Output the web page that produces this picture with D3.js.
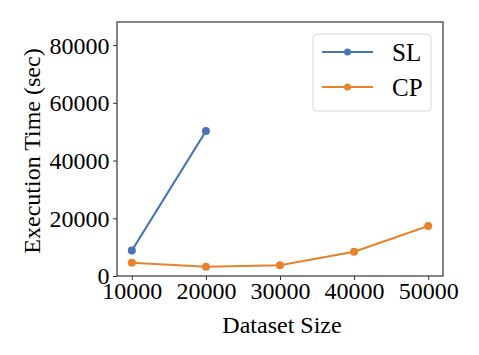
<!DOCTYPE html>
<html>
<head>
<meta charset="utf-8">
<script src="https://cdn.jsdelivr.net/npm/d3@7"></script>
<style>
  body { margin: 0; background: #fff; }
  svg text { font-family: 'Liberation Serif', 'DejaVu Serif', serif; fill: #000; }
</style>
</head>
<body>
<div id="chart-area"></div>
<script>
// margins, plot box 117..443 x 22..276
const margin = { left: 117, right: 36, top: 22, bottom: 79 };
const width = 479 - margin.left - margin.right;
const height = 355 - margin.top - margin.bottom;

// data
const sizes = [10000, 20000, 30000, 40000, 50000];
const slTimes = [8800, 50200];
const cpTimes = [4600, 3200, 3700, 8400, 17300];
const xTicks = [10000, 20000, 30000, 40000, 50000];
const yTicks = [0, 20000, 40000, 60000, 80000];
const seriesNames = ['SL', 'CP'];
const colors = ['#4a74b4', '#e8822a'];

const series = [
  { name: seriesNames[0], color: colors[0], values: slTimes.map((t, i) => ({ x: sizes[i], y: t })) },
  { name: seriesNames[1], color: colors[1], values: cpTimes.map((t, i) => ({ x: sizes[i], y: t })) },
];

const svg = d3
  .select('#chart-area')
  .append('svg')
  .attr('width', 479)
  .attr('height', 355);

const g = svg
  .append('g')
  .attr('transform', `translate(${margin.left}, ${margin.top})`);

const x = d3.scaleLinear().domain([8000, 52000]).range([0, width]);
const y = d3.scaleLinear().domain([0, 88000]).range([height, 0]);

// axes
const xAxis = g
  .append('g')
  .attr('transform', `translate(0, ${height})`)
  .call(d3.axisBottom(x).tickValues(xTicks).tickSize(4).tickPadding(2).tickFormat(d3.format('d')));
const yAxis = g
  .append('g')
  .call(d3.axisLeft(y).tickValues(yTicks).tickSize(4).tickPadding(3.5).tickFormat(d3.format('d')));

[xAxis, yAxis].forEach((a) => {
  a.attr('font-family', "'Liberation Serif', serif").attr('font-size', 24);
  a.select('.domain').remove();
  a.selectAll('line').attr('stroke', '#333').attr('stroke-width', 1);
  a.selectAll('text').attr('fill', '#000');
});
xAxis.selectAll('text').attr('dy', '0.71em');
yAxis.selectAll('text').attr('dy', '0.33em');

// frame
g.append('rect')
  .attr('x', 0)
  .attr('y', 0)
  .attr('width', width)
  .attr('height', height)
  .attr('fill', 'none')
  .attr('stroke', '#333')
  .attr('stroke-width', 1.2);

// lines + markers
const line = d3
  .line()
  .x((d) => x(d.x))
  .y((d) => y(d.y));

series.forEach((s) => {
  g.append('path')
    .attr('fill', 'none')
    .attr('stroke', s.color)
    .attr('stroke-width', 2)
    .attr('d', line(s.values));
  g.selectAll(null)
    .data(s.values)
    .enter()
    .append('circle')
    .attr('cx', (d) => x(d.x))
    .attr('cy', (d) => y(d.y))
    .attr('r', 4)
    .attr('fill', s.color);
});

// axis labels
svg.append('text')
  .attr('x', margin.left + width / 2 + 2)
  .attr('y', 333)
  .attr('text-anchor', 'middle')
  .style('font-size', '24px')
  .text('Dataset Size');

svg.append('text')
  .attr('transform', `translate(40, ${margin.top + height / 2 + 2}) rotate(-90)`)
  .attr('text-anchor', 'middle')
  .style('font-size', '24px')
  .text('Execution Time (sec)');

// legend
const legend = svg.append('g').attr('transform', 'translate(313, 34)');
legend.append('rect')
  .attr('width', 118)
  .attr('height', 77)
  .attr('rx', 4)
  .attr('fill', '#fff')
  .attr('stroke', '#d6d6d6')
  .attr('stroke-width', 1);

series.forEach((s, i) => {
  const row = legend.append('g').attr('transform', `translate(0, ${18 + i * 35})`);
  row.append('line')
    .attr('x1', 9)
    .attr('x2', 60)
    .attr('stroke', s.color)
    .attr('stroke-width', 2);
  row.append('circle')
    .attr('cx', 34.5)
    .attr('r', 3.5)
    .attr('fill', s.color);
  row.append('text')
    .attr('x', 79)
    .attr('dy', '0.35em')
    .style('font-size', '25px')
    .text(s.name);
});
</script>
</body>
</html>
